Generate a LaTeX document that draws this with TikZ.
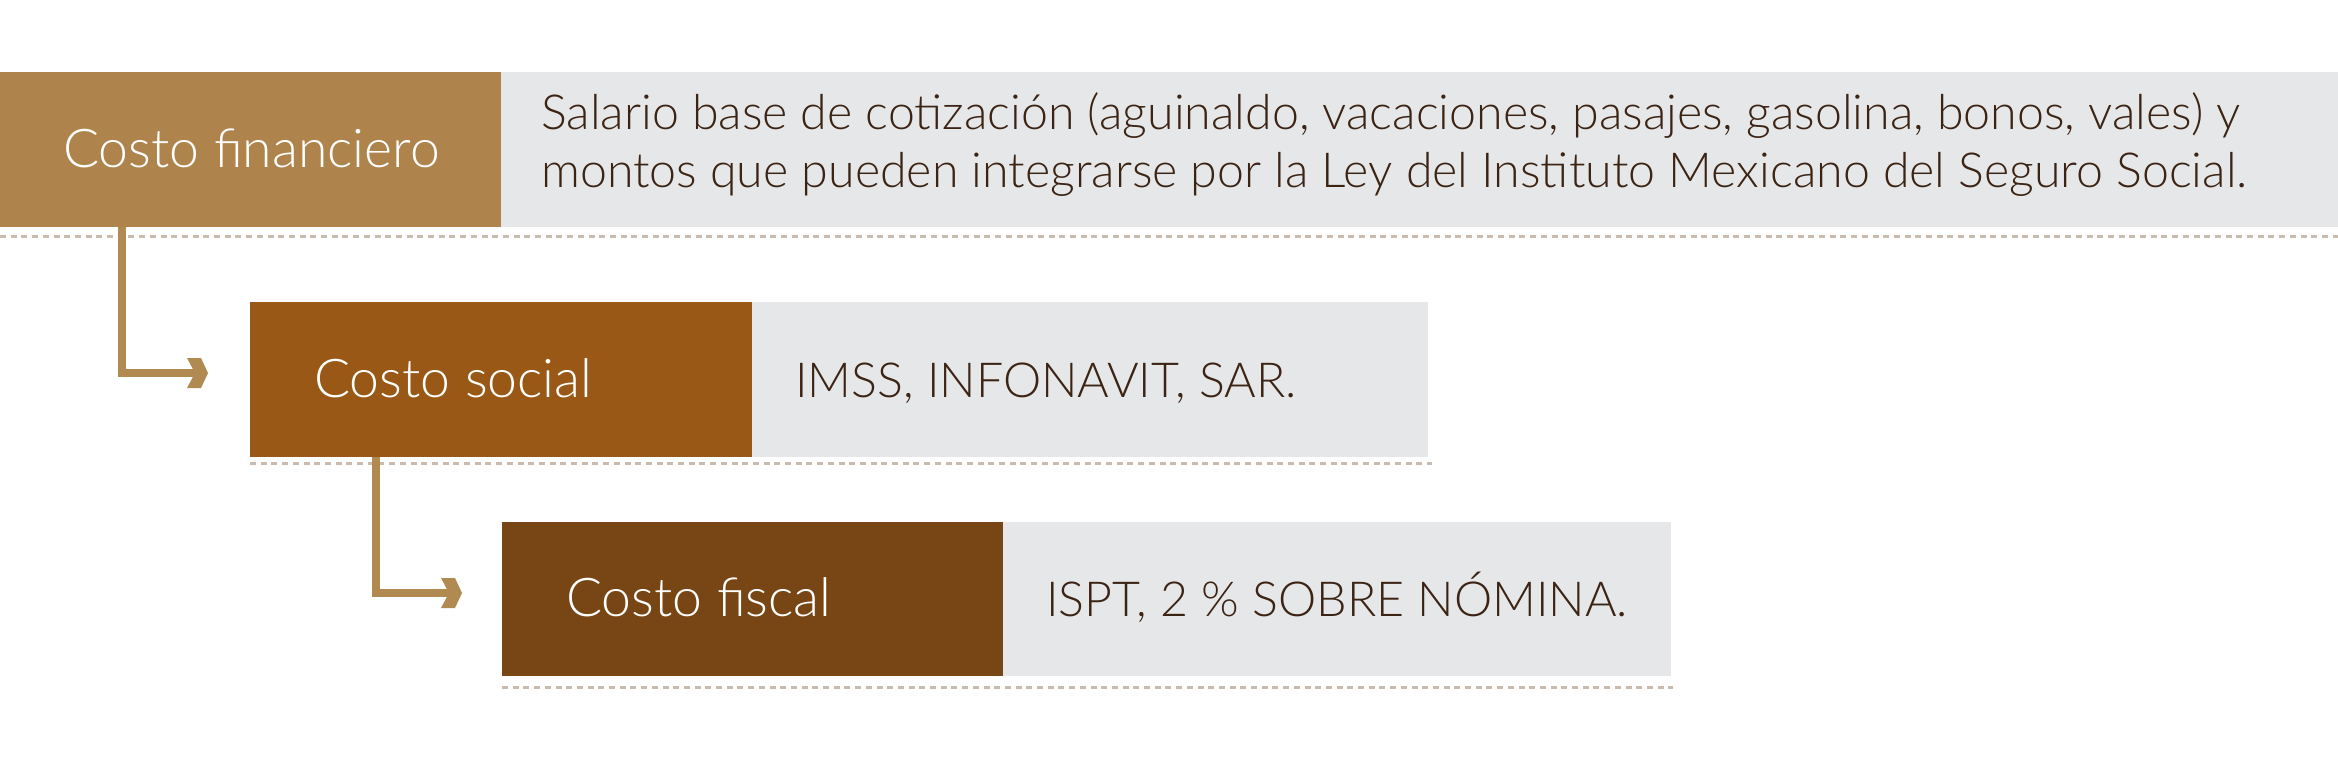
\documentclass[tikz,border=0pt]{standalone}
\usepackage{fontspec}
\setmainfont{Lato Light}
\definecolor{tanA}{HTML}{AF844C}
\definecolor{brownB}{HTML}{995815}
\definecolor{brownC}{HTML}{774614}
\definecolor{grayBox}{HTML}{E6E7E8}
\definecolor{arrowC}{HTML}{B08A50}
\definecolor{dotC}{HTML}{C9BBAE}
\definecolor{txtC}{HTML}{3C2415}
\begin{document}
\begin{tikzpicture}[x=1pt,y=-1pt,
  box/.style={rectangle, inner sep=0, outer sep=0, draw=none, anchor=north west},
  lbl/.style={anchor=base west, inner sep=0, text=white, font=\fontsize{53.5}{60}\selectfont},
  desc/.style={anchor=base west, inner sep=0, text=txtC, font=\fontsize{48.3}{58}\selectfont},
  dotline/.style={draw=dotC, line width=3pt, dash pattern=on 6pt off 4.7pt},
  conn/.style={draw=arrowC, line width=8pt},
  chev/.style={fill=arrowC}]
\useasboundingbox (0,0) rectangle (2338,763);
% row 1
\node[box, fill=tanA, minimum width=501pt, minimum height=155pt] (fin) at (0,72) {};
\node[box, fill=grayBox, minimum width=1837pt, minimum height=155pt] (finD) at (501,72) {};
\node[lbl] (finL) at (63,167) {Costo financiero};
\node[desc] (finT1) at (541,129) {Salario base de cotización (aguinaldo, vacaciones, pasajes, gasolina, bonos, vales) y};
\node[desc] (finT2) at (541,187) {montos que pueden integrarse por la Ley del Instituto Mexicano del Seguro Social.};
\coordinate (d1a) at (0,236);
\coordinate (d1b) at (2338,236);
\draw[dotline] (d1a) -- (d1b);
% row 2
\node[box, fill=brownB, minimum width=502pt, minimum height=155pt] (soc) at (250,302) {};
\node[box, fill=grayBox, minimum width=676pt, minimum height=155pt] (socD) at (752,302) {};
\node[lbl] (socL) at (314,397) {Costo social};
\node[desc] (socT) at (795,397) {IMSS, INFONAVIT, SAR.};
\coordinate (d2a) at (250,463);
\coordinate (d2b) at (1432,463);
\draw[dotline] (d2a) -- (d2b);
% row 3
\node[box, fill=brownC, minimum width=501pt, minimum height=154pt] (fis) at (502,522) {};
\node[box, fill=grayBox, minimum width=668pt, minimum height=154pt] (fisD) at (1003,522) {};
\node[lbl] (fisL) at (566,616) {Costo fiscal};
\node[desc] (fisT) at (1046,616) {ISPT, 2 \% SOBRE NÓMINA.};
\coordinate (d3a) at (502,687);
\coordinate (d3b) at (1673,687);
\draw[dotline] (d3a) -- (d3b);
% connectors
\coordinate (a1) at (122,227);
\coordinate (t1) at (198,373);
\draw[conn] (a1) |- (t1);
\fill[chev] (187,358) -- (201,358) -- (208,373) -- (201,388) -- (187,388) -- (195,373) -- cycle;
\coordinate (a2) at (376,457);
\coordinate (t2) at (452,593);
\draw[conn] (a2) |- (t2);
\fill[chev] (441,578) -- (455,578) -- (462,593) -- (455,608) -- (441,608) -- (449,593) -- cycle;
\end{tikzpicture}
\end{document}
